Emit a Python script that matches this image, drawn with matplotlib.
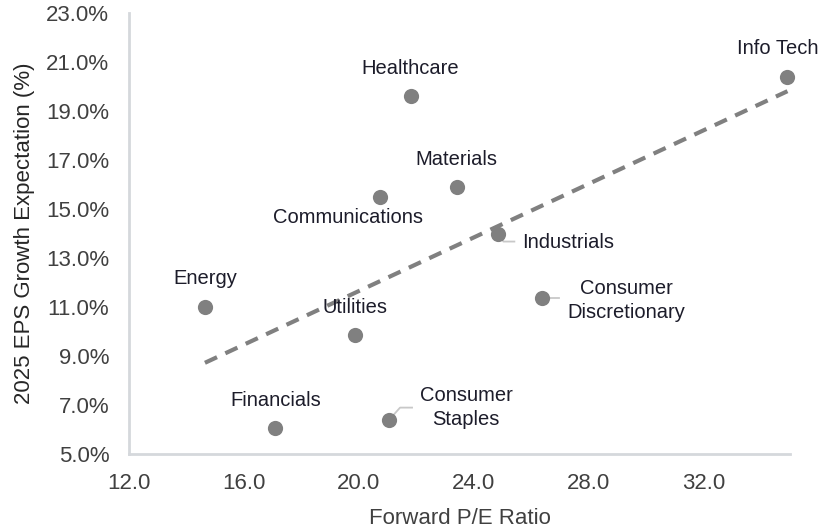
import numpy as np
import matplotlib
matplotlib.use("Agg")
import matplotlib.pyplot as plt
from matplotlib.ticker import FuncFormatter

plt.rcParams['font.family'] = ['Liberation Sans', 'DejaVu Sans']

sectors = ["Info Tech", "Healthcare", "Materials", "Communications", "Industrials",
           "Consumer\nDiscretionary", "Energy", "Utilities", "Financials", "Consumer\nStaples"]
pe = [34.9, 21.8, 23.4, 20.75, 24.85, 26.35, 14.65, 19.85, 17.1, 21.05]
eps_growth = [20.4, 19.6, 15.9, 15.5, 14.0, 11.35, 11.0, 9.85, 6.05, 6.4]

x_ticks = [12.0, 16.0, 20.0, 24.0, 28.0, 32.0]
y_ticks = [5.0, 7.0, 9.0, 11.0, 13.0, 15.0, 17.0, 19.0, 21.0, 23.0]

# label offsets in pixels (dx, dy), leader line
label_cfg = {
    "Info Tech": ((-10, 28), False),
    "Healthcare": ((0, 28), False),
    "Materials": ((0, 28), False),
    "Communications": ((-32, -21), False),
    "Industrials": ((70, -9), True),
    "Consumer\nDiscretionary": ((85, -2), True),
    "Energy": ((0, 28), False),
    "Utilities": ((0, 28), False),
    "Financials": ((0, 28), False),
    "Consumer\nStaples": ((77, 12), True),
}
leaders = {
    "Industrials": [(3, -4), (5, -8), (16, -8)],
    "Consumer\nDiscretionary": [(2, 0), (17, 0)],
    "Consumer\nStaples": [(3, 3), (11, 12), (23, 12)],
}

fig = plt.figure(figsize=(8.25, 5.29), dpi=100)
ax = fig.add_axes([0.156, 0.142, 0.802, 0.833])
ax.set_xlim(12.0, 35.0)
ax.set_ylim(5.0, 23.0)

ax.scatter(pe, eps_growth, s=120, color="#808080", zorder=3, linewidths=0, clip_on=False)

# trend line (least squares)
coef = np.polyfit(pe, eps_growth, 1)
xs = np.array([min(pe), max(pe)])
ax.plot(xs, np.polyval(coef, xs), linestyle=(0, (3.2, 2.2)), color="#808080",
        linewidth=3, zorder=2, clip_on=False)

for name, x, y in zip(sectors, pe, eps_growth):
    (dx, dy), leader = label_cfg[name]
    ax.annotate(name, xy=(x, y), xytext=(dx, dy), textcoords="offset pixels",
                ha="center", va="center", fontsize=14.5, color="#1c1c2a",
                linespacing=1.3, zorder=4)
    if leader:
        xy0 = ax.transData.transform((x, y))
        path = [ax.transData.inverted().transform((xy0[0] + px, xy0[1] + py))
                for px, py in leaders[name]]
        ax.plot([p[0] for p in path], [p[1] for p in path], color="#c8c8c8",
                linewidth=1.3, zorder=2)

ax.set_xticks(x_ticks)
ax.set_yticks(y_ticks)
ax.xaxis.set_major_formatter(FuncFormatter(lambda v, p: f"{v:.1f}"))
ax.yaxis.set_major_formatter(FuncFormatter(lambda v, p: f"{v:.1f}%"))
ax.tick_params(axis="y", length=0, labelsize=16, colors="#404040", pad=14)
ax.tick_params(axis="x", length=0, labelsize=16, colors="#404040", pad=14)

for s in ["top", "right"]:
    ax.spines[s].set_visible(False)
for s in ["left", "bottom"]:
    ax.spines[s].set_color("#d5d8dc")
    ax.spines[s].set_linewidth(2)

ax.set_xlabel("Forward P/E Ratio", fontsize=16, color="#404040", labelpad=10)
ax.set_ylabel("2025 EPS Growth Expectation (%)", fontsize=16, color="#262626", labelpad=8)

fig.savefig("out.png", dpi=100)
